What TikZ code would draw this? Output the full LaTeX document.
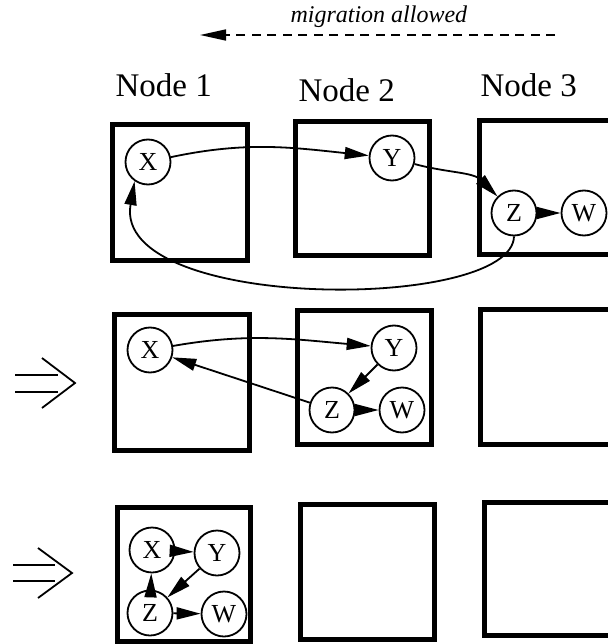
\documentclass[tikz,border=0pt]{standalone}
\usepackage{fontspec}
\setmainfont{Liberation Serif}
\usetikzlibrary{arrows.meta}

\tikzset{
	site/.style={line width=5pt},
	proc/.style={circle, draw, line width=1.8pt, minimum size=45pt, inner sep=0pt,
		font=\fontsize{26}{26}\selectfont},
	link/.style={line width=1.8pt, -{Triangle[length=24pt,width=12pt]}},
	sitelabel/.style={anchor=base west, font=\fontsize{33}{33}\selectfont},
	migrate/.style={line width=1.7pt, dash pattern=on 9pt off 6.5pt, -{Triangle[length=26pt,width=11pt]}},
	implies/.style={line width=1.8pt}
}

\begin{document}
\begin{tikzpicture}[x=1pt,y=1pt]
		\useasboundingbox (0,0) rectangle (607,-644);
		% header
		\node[anchor=base west, font=\itshape\fontsize{24}{24}\selectfont] (miglabel) at (287,-23) {migration allowed};
		\coordinate (migfrom) at (555,-35);
		\coordinate (migto) at (200,-35);
		\draw[migrate] (migfrom) -- (migto);
		\node[sitelabel] (label1) at (112,-97) {Node 1};
		\node[sitelabel] (label2) at (295,-102) {Node 2};
		\node[sitelabel] (label3) at (477,-97) {Node 3};
		% row 1
		\draw[site] (112.5,-124.5) rectangle (247.5,-260.5);
		\draw[site] (295.5,-121.5) rectangle (429.5,-255.5);
		\draw[site] (479.5,-120.5) rectangle (612,-254.5);
		\node[proc] (x1) at (148,-162) {X};
		\node[proc] (y1) at (392,-158) {Y};
		\node[proc] (z1) at (514,-213) {Z};
		\node[proc] (w1) at (584,-213) {W};
		\draw[link] (x1) to[out=12, in=174] (y1);
		\draw[link] (y1) to[out=-15, in=135] (z1);
		\draw[link] (z1) -- (w1);
		\draw[link] (z1.south) .. controls (512,-312) and (112,-312) .. (x1.-125);
		% row 2
		\draw[implies] (15,-375) -- (58,-375) (15,-392) -- (58,-392);
		\draw[implies] (42,-358) -- (75,-383) -- (42,-408);
		\draw[site] (114.5,-314.5) rectangle (249.5,-450.5);
		\draw[site] (297.5,-310.5) rectangle (431.5,-444.5);
		\draw[site] (480.5,-309.5) rectangle (612,-444.5);
		\node[proc] (x2) at (150,-350) {X};
		\node[proc] (y2) at (394,-348) {Y};
		\node[proc] (z2) at (332,-410) {Z};
		\node[proc] (w2) at (402,-410) {W};
		\draw[link] (x2) to[out=10, in=175] (y2);
		\draw[link] (y2) -- (z2);
		\draw[link] (z2) -- (w2);
		\draw[link] (z2) -- (x2);
		% row 3
		\draw[implies] (13,-565) -- (55,-565) (13,-581) -- (55,-581);
		\draw[implies] (38,-548) -- (72,-573) -- (38,-598);
		\draw[site] (117.5,-507.5) rectangle (250.5,-641);
		\draw[site] (300.5,-504.5) rectangle (434.5,-639.5);
		\draw[site] (484.5,-502.5) rectangle (612,-635.5);
		\node[proc] (x3) at (152,-550) {X};
		\node[proc] (y3) at (217,-553) {Y};
		\node[proc] (z3) at (150,-613) {Z};
		\node[proc] (w3) at (224,-614) {W};
		\draw[link] (x3) -- (y3);
		\draw[link] (y3) -- (z3);
		\draw[link] (z3) -- (x3);
		\draw[link] (z3) -- (w3);
\end{tikzpicture}
\end{document}
